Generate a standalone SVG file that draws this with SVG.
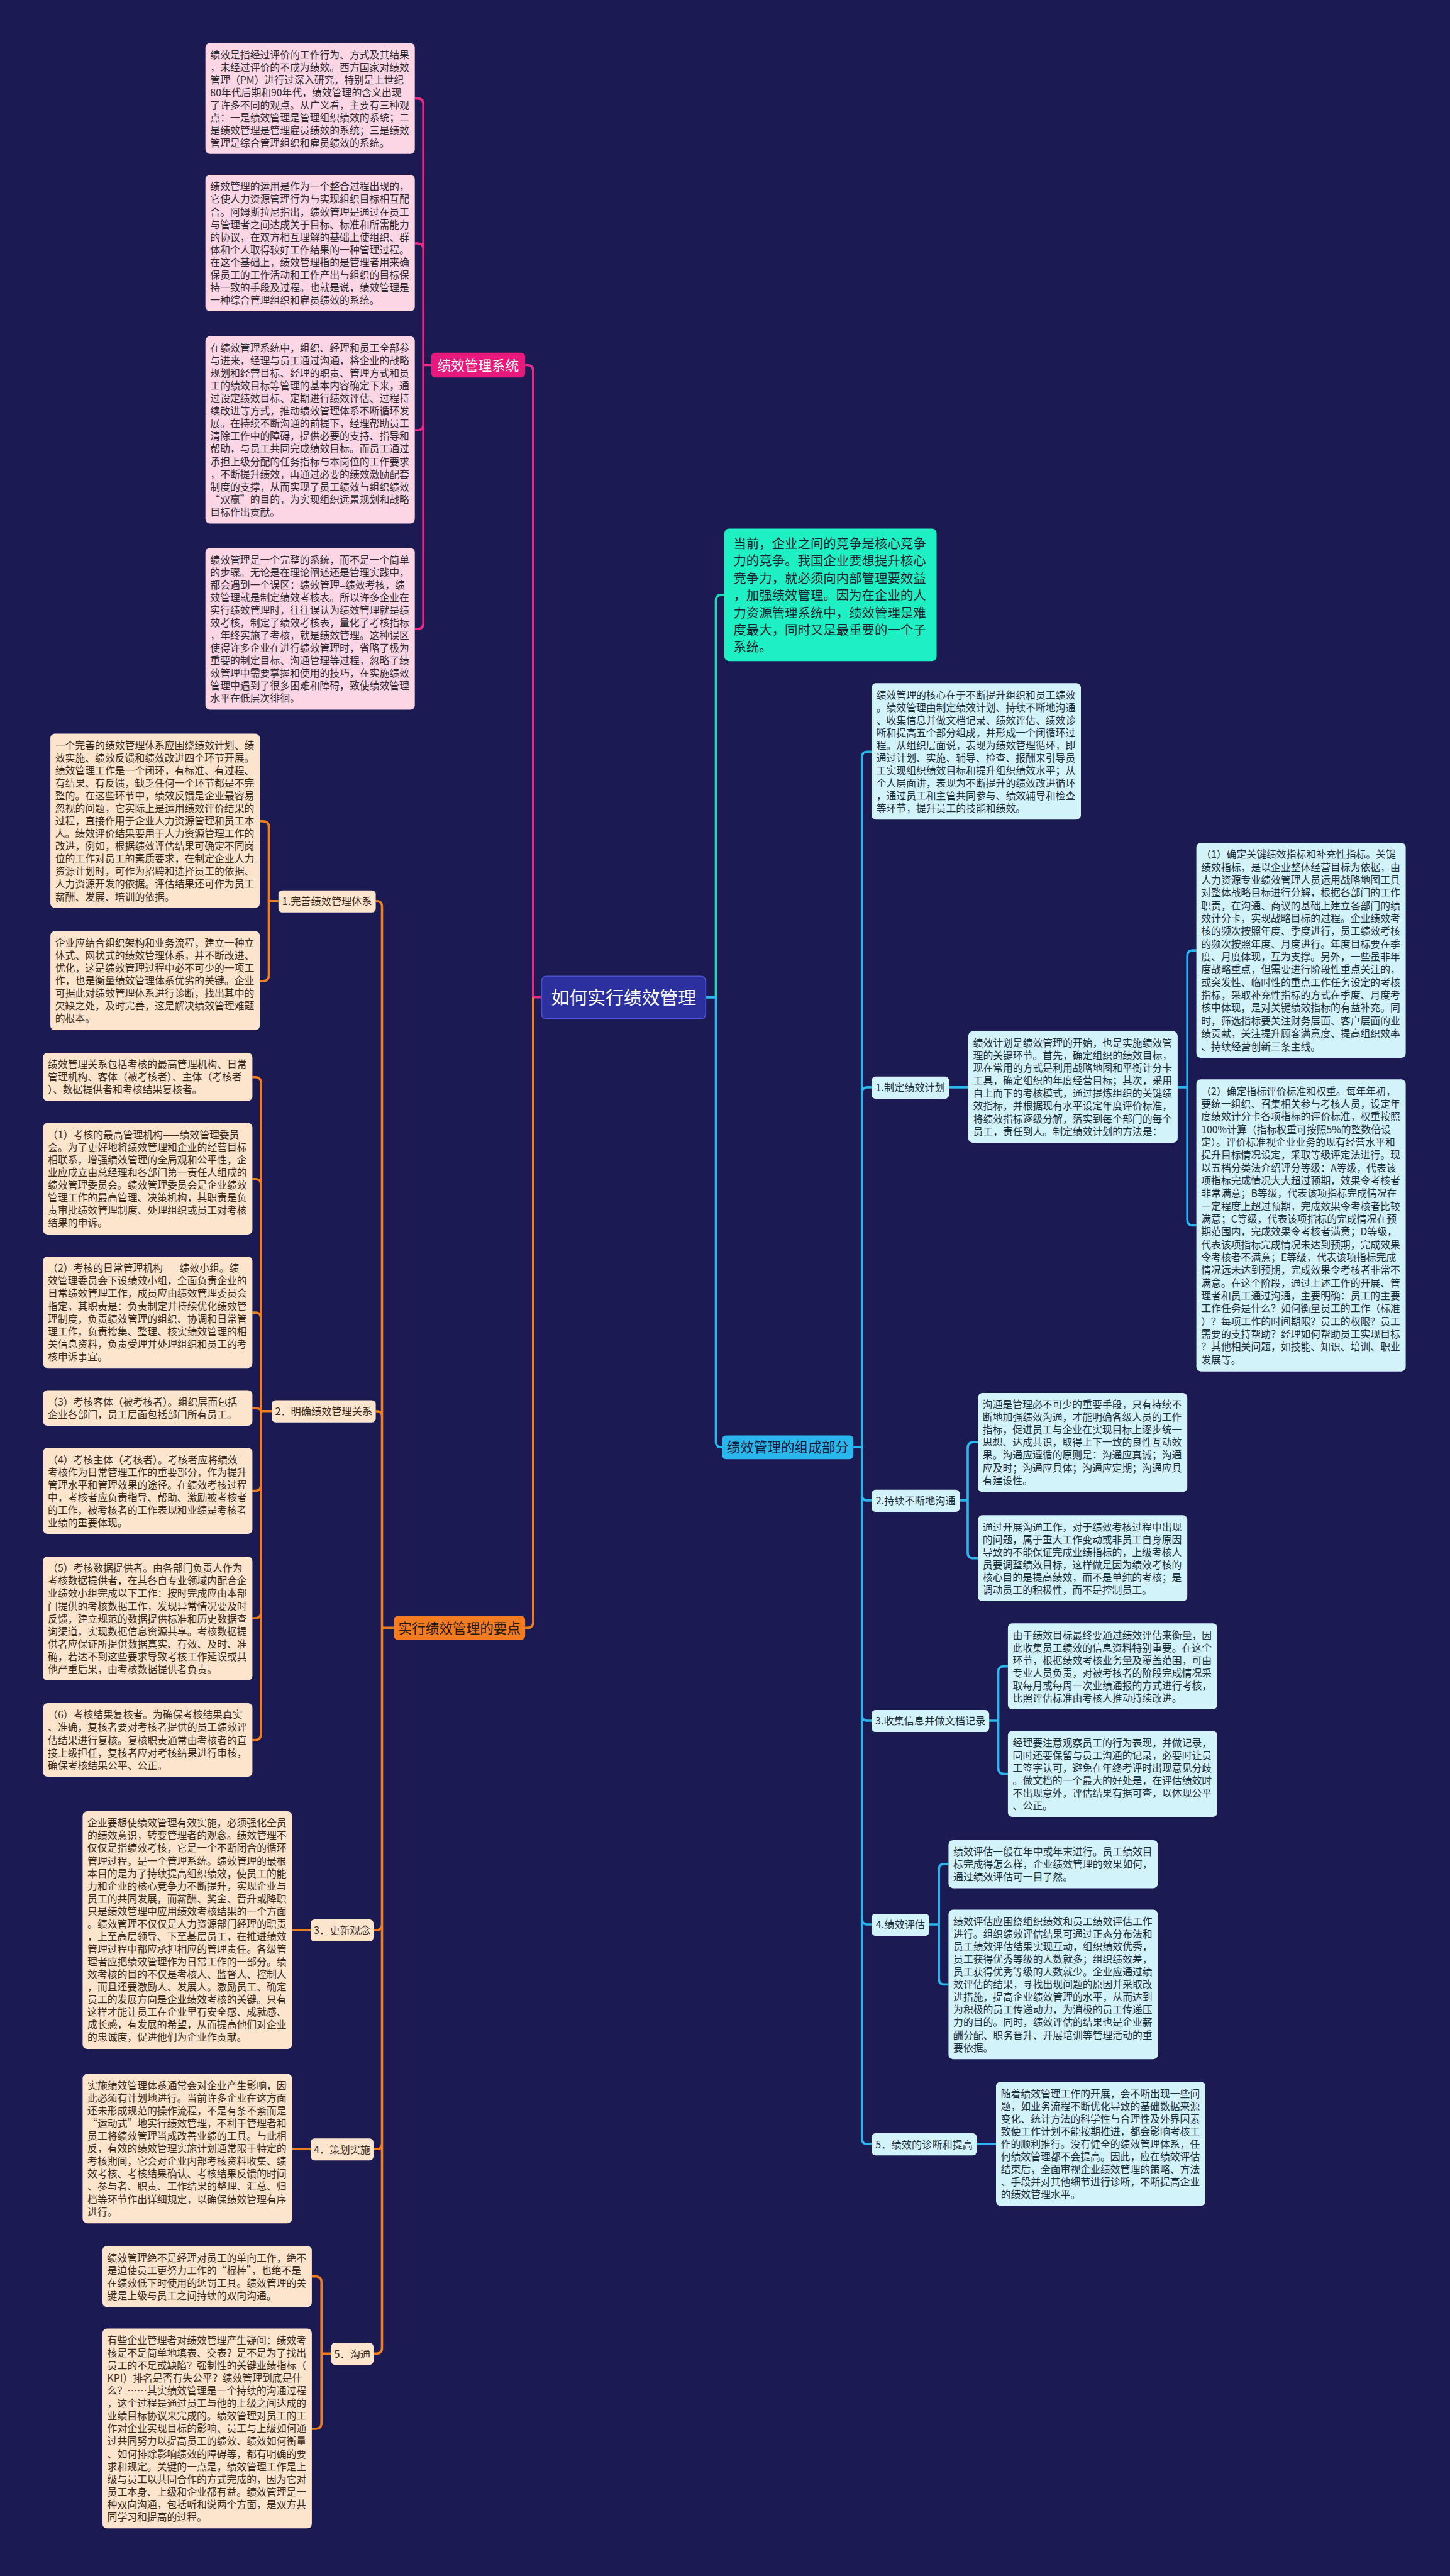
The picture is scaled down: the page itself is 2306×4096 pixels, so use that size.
<svg xmlns="http://www.w3.org/2000/svg" width="2306" height="4096" viewBox="0 0 2306 4096">
<style>
.t{font-family:"Noto Sans CJK SC","Liberation Sans",sans-serif;font-size:17.6px}
.gt{font-family:"Noto Sans CJK SC","Liberation Sans",sans-serif;font-size:22.7px;fill:#10242e}
.pt{fill:#2e2a30}.ot{fill:#3b2a1c}.bt{fill:#1d2e3c}
.pb{fill:#fdd6e6}.obx{fill:#fde5cd}.bb{fill:#d3f3fb}
.nl{font-family:"Noto Sans CJK SC","Liberation Sans",sans-serif;text-anchor:middle}
.cp{fill:none;stroke:#ee2a86;stroke-width:4}
.co{fill:none;stroke:#f07d1e;stroke-width:4}
.cb{fill:none;stroke:#2ab7ee;stroke-width:4}
.cg{fill:none;stroke:#1fdcb8;stroke-width:4}
</style>
<rect width="2306" height="4096" fill="#1b1a52"/>
<g transform="scale(0.9)">
<g id="connectors">
<path class="cp" d="M957,1762 H942 M942,1762 V655 Q942,645 932,645 H928"/>
<path class="co" d="M942,1762 V2866 Q942,2876 932,2876 H928"/>
<path class="cp" d="M762,645 H748 M748,645 V184 Q748,174 738,174 H733 M748,645 V440 Q748,430 738,430 H733 M748,645 V750 Q748,760 738,760 H733 M748,645 V1101 Q748,1111 738,1111 H733"/>
<path class="co" d="M696,2876 H675 M675,2876 V1602 Q675,1592 665,1592 H664 M675,2876 V2503 Q675,2493 665,2493 H664 M675,2876 V3400 Q675,3410 665,3410 H660 M675,2876 V3787 Q675,3797 665,3797 H660 M675,2876 V4148 Q675,4158 665,4158 H660"/>
<path class="co" d="M492,1592 H475 M475,1592 V1461 Q475,1451 465,1451 H459 M475,1592 V1723 Q475,1733 465,1733 H459"/>
<path class="co" d="M480,2493 H461 M461,2493 V1913 Q461,1903 451,1903 H446 M461,2493 V2093 Q461,2083 451,2083 H446 M461,2493 V2329 Q461,2319 451,2319 H446 M461,2493 Q461,2488 451,2488 H446 M461,2493 V2624 Q461,2634 451,2634 H446 M461,2493 V2849 Q461,2859 451,2859 H446 M461,2493 V3064 Q461,3074 451,3074 H446"/>
<path class="co" d="M549,3410 H516 M549,3797 H516"/>
<path class="co" d="M585,4158 H568 M568,4158 V4032 Q568,4022 558,4022 H551 M568,4158 V4281 Q568,4291 558,4291 H551"/>
<path class="cg" d="M1247,1762 H1265 M1265,1762 V1061 Q1265,1051 1275,1051 H1280"/>
<path class="cb" d="M1247,1762 H1265 M1265,1762 V2547 Q1265,2557 1275,2557 H1276"/>
<path class="cb" d="M1508,2557 H1523 M1523,2557 V1338 Q1523,1328 1533,1328 H1540 M1523,2557 V1931 Q1523,1921 1533,1921 H1540 M1523,2557 V2641 Q1523,2651 1533,2651 H1540 M1523,2557 V3030 Q1523,3040 1533,3040 H1540 M1523,2557 V3390 Q1523,3400 1533,3400 H1540 M1523,2557 V3778 Q1523,3788 1533,3788 H1540"/>
<path class="cb" d="M1677,1921 H1711 M2081,1921 H2098 M2098,1921 V1689 Q2098,1679 2108,1679 H2114 M2098,1921 V2155 Q2098,2165 2108,2165 H2114"/>
<path class="cb" d="M1696,2651 H1710 M1710,2651 V2558 Q1710,2548 1720,2548 H1728 M1710,2651 V2743 Q1710,2753 1720,2753 H1728"/>
<path class="cb" d="M1748,3040 H1764 M1764,3040 V2954 Q1764,2944 1774,2944 H1781 M1764,3040 V3124 Q1764,3134 1774,3134 H1781"/>
<path class="cb" d="M1642,3400 H1659 M1659,3400 V3303 Q1659,3293 1669,3293 H1676 M1659,3400 V3496 Q1659,3506 1669,3506 H1676"/>
<path class="cb" d="M1726,3788 H1760"/>
</g>

<g id="center">
<rect x="957" y="1725" width="290" height="75" rx="8" fill="#2c2f9e" stroke="#4a50d0" stroke-width="2"/>
<text class="nl" x="1102" y="1774" font-size="32" fill="#ffffff">如何实行绩效管理</text>
</g>

<g id="n-system">
<rect x="762" y="623" width="166" height="44" rx="7" fill="#e8197d"/>
<text class="nl" x="845" y="654" font-size="24" fill="#ffffff">绩效管理系统</text>
</g>
<g id="p1"><rect class="pb" x="363" y="76" width="370" height="196" rx="8"/>
<text class="t pt" x="371.5" y="103"><tspan x="371.5">绩效是指经过评价的工作行为、方式及其结果</tspan><tspan x="371.5" dy="22.3">，未经过评价的不成为绩效。西方国家对绩效</tspan><tspan x="371.5" dy="22.3">管理（PM）进行过深入研究，特别是上世纪</tspan><tspan x="371.5" dy="22.3">80年代后期和90年代，绩效管理的含义出现</tspan><tspan x="371.5" dy="22.3">了许多不同的观点。从广义看，主要有三种观</tspan><tspan x="371.5" dy="22.3">点：一是绩效管理是管理组织绩效的系统；二</tspan><tspan x="371.5" dy="22.3">是绩效管理是管理雇员绩效的系统；三是绩效</tspan><tspan x="371.5" dy="22.3">管理是综合管理组织和雇员绩效的系统。</tspan></text></g>
<g id="p2"><rect class="pb" x="363" y="309" width="370" height="241" rx="8"/>
<text class="t pt" x="371.5" y="336"><tspan x="371.5">绩效管理的运用是作为一个整合过程出现的，</tspan><tspan x="371.5" dy="22.3">它使人力资源管理行为与实现组织目标相互配</tspan><tspan x="371.5" dy="22.3">合。阿姆斯拉尼指出，绩效管理是通过在员工</tspan><tspan x="371.5" dy="22.3">与管理者之间达成关于目标、标准和所需能力</tspan><tspan x="371.5" dy="22.3">的协议，在双方相互理解的基础上使组织、群</tspan><tspan x="371.5" dy="22.3">体和个人取得较好工作结果的一种管理过程。</tspan><tspan x="371.5" dy="22.3">在这个基础上，绩效管理指的是管理者用来确</tspan><tspan x="371.5" dy="22.3">保员工的工作活动和工作产出与组织的目标保</tspan><tspan x="371.5" dy="22.3">持一致的手段及过程。也就是说，绩效管理是</tspan><tspan x="371.5" dy="22.3">一种综合管理组织和雇员绩效的系统。</tspan></text></g>
<g id="p3"><rect class="pb" x="363" y="594" width="370" height="331" rx="8"/>
<text class="t pt" x="371.5" y="621"><tspan x="371.5">在绩效管理系统中，组织、经理和员工全部参</tspan><tspan x="371.5" dy="22.3">与进来，经理与员工通过沟通，将企业的战略</tspan><tspan x="371.5" dy="22.3">规划和经营目标、经理的职责、管理方式和员</tspan><tspan x="371.5" dy="22.3">工的绩效目标等管理的基本内容确定下来，通</tspan><tspan x="371.5" dy="22.3">过设定绩效目标、定期进行绩效评估、过程持</tspan><tspan x="371.5" dy="22.3">续改进等方式，推动绩效管理体系不断循环发</tspan><tspan x="371.5" dy="22.3">展。在持续不断沟通的前提下，经理帮助员工</tspan><tspan x="371.5" dy="22.3">清除工作中的障碍，提供必要的支持、指导和</tspan><tspan x="371.5" dy="22.3">帮助，与员工共同完成绩效目标。而员工通过</tspan><tspan x="371.5" dy="22.3">承担上级分配的任务指标与本岗位的工作要求</tspan><tspan x="371.5" dy="22.3">，不断提升绩效，再通过必要的绩效激励配套</tspan><tspan x="371.5" dy="22.3">制度的支撑，从而实现了员工绩效与组织绩效</tspan><tspan x="371.5" dy="22.3">“双赢”的目的，为实现组织远景规划和战略</tspan><tspan x="371.5" dy="22.3">目标作出贡献。</tspan></text></g>
<g id="p4"><rect class="pb" x="363" y="968" width="370" height="286" rx="8"/>
<text class="t pt" x="371.5" y="995"><tspan x="371.5">绩效管理是一个完整的系统，而不是一个简单</tspan><tspan x="371.5" dy="22.3">的步骤。无论是在理论阐述还是管理实践中，</tspan><tspan x="371.5" dy="22.3">都会遇到一个误区：绩效管理=绩效考核，绩</tspan><tspan x="371.5" dy="22.3">效管理就是制定绩效考核表。所以许多企业在</tspan><tspan x="371.5" dy="22.3">实行绩效管理时，往往误认为绩效管理就是绩</tspan><tspan x="371.5" dy="22.3">效考核，制定了绩效考核表，量化了考核指标</tspan><tspan x="371.5" dy="22.3">，年终实施了考核，就是绩效管理。这种误区</tspan><tspan x="371.5" dy="22.3">使得许多企业在进行绩效管理时，省略了极为</tspan><tspan x="371.5" dy="22.3">重要的制定目标、沟通管理等过程，忽略了绩</tspan><tspan x="371.5" dy="22.3">效管理中需要掌握和使用的技巧，在实施绩效</tspan><tspan x="371.5" dy="22.3">管理中遇到了很多困难和障碍，致使绩效管理</tspan><tspan x="371.5" dy="22.3">水平在低层次徘徊。</tspan></text></g>

<g id="n-keypoints">
<rect x="696" y="2855" width="232" height="42" rx="7" fill="#f47c20"/>
<text class="nl" x="812" y="2885" font-size="24" fill="#2a1a0c">实行绩效管理的要点</text>
</g>
<g id="n-o1"><rect class="obx" x="492" y="1573" width="172" height="39" rx="7"/><text class="nl ot" x="578" y="1599" font-size="18">1.完善绩效管理体系</text></g>
<g id="n-o2"><rect class="obx" x="480" y="2474" width="184" height="39" rx="7"/><text class="nl ot" x="572" y="2500" font-size="18">2．明确绩效管理关系</text></g>
<g id="n-o3"><rect class="obx" x="549" y="3391" width="111" height="39" rx="7"/><text class="nl ot" x="604.5" y="3417" font-size="18">3．更新观念</text></g>
<g id="n-o4"><rect class="obx" x="549" y="3778" width="111" height="39" rx="7"/><text class="nl ot" x="604.5" y="3804" font-size="18">4．策划实施</text></g>
<g id="n-o5"><rect class="obx" x="585" y="4139" width="75" height="39" rx="7"/><text class="nl ot" x="622.5" y="4165" font-size="18">5．沟通</text></g>

<g id="oa"><rect class="obx" x="89" y="1296" width="370" height="308" rx="8"/>
<text class="t ot" x="97.5" y="1323"><tspan x="97.5">一个完善的绩效管理体系应围绕绩效计划、绩</tspan><tspan x="97.5" dy="22.3">效实施、绩效反馈和绩效改进四个环节开展。</tspan><tspan x="97.5" dy="22.3">绩效管理工作是一个闭环，有标准、有过程、</tspan><tspan x="97.5" dy="22.3">有结果、有反馈，缺乏任何一个环节都是不完</tspan><tspan x="97.5" dy="22.3">整的。在这些环节中，绩效反馈是企业最容易</tspan><tspan x="97.5" dy="22.3">忽视的问题，它实际上是运用绩效评价结果的</tspan><tspan x="97.5" dy="22.3">过程，直接作用于企业人力资源管理和员工本</tspan><tspan x="97.5" dy="22.3">人。绩效评价结果要用于人力资源管理工作的</tspan><tspan x="97.5" dy="22.3">改进，例如，根据绩效评估结果可确定不同岗</tspan><tspan x="97.5" dy="22.3">位的工作对员工的素质要求，在制定企业人力</tspan><tspan x="97.5" dy="22.3">资源计划时，可作为招聘和选择员工的依据、</tspan><tspan x="97.5" dy="22.3">人力资源开发的依据。评估结果还可作为员工</tspan><tspan x="97.5" dy="22.3">薪酬、发展、培训的依据。</tspan></text></g>
<g id="ob"><rect class="obx" x="89" y="1645" width="370" height="175" rx="8"/>
<text class="t ot" x="97.5" y="1672"><tspan x="97.5">企业应结合组织架构和业务流程，建立一种立</tspan><tspan x="97.5" dy="22.3">体式、网状式的绩效管理体系，并不断改进、</tspan><tspan x="97.5" dy="22.3">优化，这是绩效管理过程中必不可少的一项工</tspan><tspan x="97.5" dy="22.3">作，也是衡量绩效管理体系优劣的关键。企业</tspan><tspan x="97.5" dy="22.3">可据此对绩效管理体系进行诊断，找出其中的</tspan><tspan x="97.5" dy="22.3">欠缺之处，及时完善，这是解决绩效管理难题</tspan><tspan x="97.5" dy="22.3">的根本。</tspan></text></g>
<g id="oc"><rect class="obx" x="76" y="1860" width="370" height="85" rx="8"/>
<text class="t ot" x="84.5" y="1887"><tspan x="84.5">绩效管理关系包括考核的最高管理机构、日常</tspan><tspan x="84.5" dy="22.3">管理机构、客体（被考核者）、主体（考核者</tspan><tspan x="84.5" dy="22.3">）、数据提供者和考核结果复核者。</tspan></text></g>
<g id="od"><rect class="obx" x="76" y="1984" width="370" height="197" rx="8"/>
<text class="t ot" x="84.5" y="2011"><tspan x="84.5">（1）考核的最高管理机构——绩效管理委员</tspan><tspan x="84.5" dy="22.3">会。为了更好地将绩效管理和企业的经营目标</tspan><tspan x="84.5" dy="22.3">相联系，增强绩效管理的全局观和公平性，企</tspan><tspan x="84.5" dy="22.3">业应成立由总经理和各部门第一责任人组成的</tspan><tspan x="84.5" dy="22.3">绩效管理委员会。绩效管理委员会是企业绩效</tspan><tspan x="84.5" dy="22.3">管理工作的最高管理、决策机构，其职责是负</tspan><tspan x="84.5" dy="22.3">责审批绩效管理制度、处理组织或员工对考核</tspan><tspan x="84.5" dy="22.3">结果的申诉。</tspan></text></g>
<g id="oe"><rect class="obx" x="76" y="2220" width="370" height="197" rx="8"/>
<text class="t ot" x="84.5" y="2247"><tspan x="84.5">（2）考核的日常管理机构——绩效小组。绩</tspan><tspan x="84.5" dy="22.3">效管理委员会下设绩效小组，全面负责企业的</tspan><tspan x="84.5" dy="22.3">日常绩效管理工作，成员应由绩效管理委员会</tspan><tspan x="84.5" dy="22.3">指定，其职责是：负责制定并持续优化绩效管</tspan><tspan x="84.5" dy="22.3">理制度，负责绩效管理的组织、协调和日常管</tspan><tspan x="84.5" dy="22.3">理工作，负责搜集、整理、核实绩效管理的相</tspan><tspan x="84.5" dy="22.3">关信息资料，负责受理并处理组织和员工的考</tspan><tspan x="84.5" dy="22.3">核申诉事宜。</tspan></text></g>
<g id="of"><rect class="obx" x="76" y="2456" width="370" height="63" rx="8"/>
<text class="t ot" x="84.5" y="2483"><tspan x="84.5">（3）考核客体（被考核者）。组织层面包括</tspan><tspan x="84.5" dy="22.3">企业各部门，员工层面包括部门所有员工。</tspan></text></g>
<g id="og"><rect class="obx" x="76" y="2558" width="370" height="152" rx="8"/>
<text class="t ot" x="84.5" y="2585"><tspan x="84.5">（4）考核主体（考核者）。考核者应将绩效</tspan><tspan x="84.5" dy="22.3">考核作为日常管理工作的重要部分，作为提升</tspan><tspan x="84.5" dy="22.3">管理水平和管理效果的途径。在绩效考核过程</tspan><tspan x="84.5" dy="22.3">中，考核者应负责指导、帮助、激励被考核者</tspan><tspan x="84.5" dy="22.3">的工作，被考核者的工作表现和业绩是考核者</tspan><tspan x="84.5" dy="22.3">业绩的重要体现。</tspan></text></g>
<g id="oh"><rect class="obx" x="76" y="2750" width="370" height="219" rx="8"/>
<text class="t ot" x="84.5" y="2777"><tspan x="84.5">（5）考核数据提供者。由各部门负责人作为</tspan><tspan x="84.5" dy="22.3">考核数据提供者，在其各自专业领域内配合企</tspan><tspan x="84.5" dy="22.3">业绩效小组完成以下工作：按时完成应由本部</tspan><tspan x="84.5" dy="22.3">门提供的考核数据工作，发现异常情况要及时</tspan><tspan x="84.5" dy="22.3">反馈，建立规范的数据提供标准和历史数据查</tspan><tspan x="84.5" dy="22.3">询渠道，实现数据信息资源共享。考核数据提</tspan><tspan x="84.5" dy="22.3">供者应保证所提供数据真实、有效、及时、准</tspan><tspan x="84.5" dy="22.3">确，若达不到这些要求导致考核工作延误或其</tspan><tspan x="84.5" dy="22.3">他严重后果，由考核数据提供者负责。</tspan></text></g>
<g id="oi"><rect class="obx" x="76" y="3009" width="370" height="130" rx="8"/>
<text class="t ot" x="84.5" y="3036"><tspan x="84.5">（6）考核结果复核者。为确保考核结果真实</tspan><tspan x="84.5" dy="22.3">、准确，复核者要对考核者提供的员工绩效评</tspan><tspan x="84.5" dy="22.3">估结果进行复核。复核职责通常由考核者的直</tspan><tspan x="84.5" dy="22.3">接上级担任，复核者应对考核结果进行审核，</tspan><tspan x="84.5" dy="22.3">确保考核结果公平、公正。</tspan></text></g>
<g id="oj"><rect class="obx" x="146" y="3200" width="370" height="420" rx="8"/>
<text class="t ot" x="154.5" y="3227"><tspan x="154.5">企业要想使绩效管理有效实施，必须强化全员</tspan><tspan x="154.5" dy="22.3">的绩效意识，转变管理者的观念。绩效管理不</tspan><tspan x="154.5" dy="22.3">仅仅是指绩效考核，它是一个不断闭合的循环</tspan><tspan x="154.5" dy="22.3">管理过程，是一个管理系统。绩效管理的最根</tspan><tspan x="154.5" dy="22.3">本目的是为了持续提高组织绩效，使员工的能</tspan><tspan x="154.5" dy="22.3">力和企业的核心竞争力不断提升，实现企业与</tspan><tspan x="154.5" dy="22.3">员工的共同发展，而薪酬、奖金、晋升或降职</tspan><tspan x="154.5" dy="22.3">只是绩效管理中应用绩效考核结果的一个方面</tspan><tspan x="154.5" dy="22.3">。绩效管理不仅仅是人力资源部门经理的职责</tspan><tspan x="154.5" dy="22.3">，上至高层领导、下至基层员工，在推进绩效</tspan><tspan x="154.5" dy="22.3">管理过程中都应承担相应的管理责任。各级管</tspan><tspan x="154.5" dy="22.3">理者应把绩效管理作为日常工作的一部分。绩</tspan><tspan x="154.5" dy="22.3">效考核的目的不仅是考核人、监督人、控制人</tspan><tspan x="154.5" dy="22.3">，而且还要激励人、发展人。激励员工、确定</tspan><tspan x="154.5" dy="22.3">员工的发展方向是企业绩效考核的关键。只有</tspan><tspan x="154.5" dy="22.3">这样才能让员工在企业里有安全感、成就感、</tspan><tspan x="154.5" dy="22.3">成长感，有发展的希望，从而提高他们对企业</tspan><tspan x="154.5" dy="22.3">的忠诚度，促进他们为企业作贡献。</tspan></text></g>
<g id="ok"><rect class="obx" x="146" y="3664" width="370" height="264" rx="8"/>
<text class="t ot" x="154.5" y="3691"><tspan x="154.5">实施绩效管理体系通常会对企业产生影响，因</tspan><tspan x="154.5" dy="22.3">此必须有计划地进行。当前许多企业在这方面</tspan><tspan x="154.5" dy="22.3">还未形成规范的操作流程，不是有条不紊而是</tspan><tspan x="154.5" dy="22.3">“运动式”地实行绩效管理，不利于管理者和</tspan><tspan x="154.5" dy="22.3">员工将绩效管理当成改善业绩的工具。与此相</tspan><tspan x="154.5" dy="22.3">反，有效的绩效管理实施计划通常限于特定的</tspan><tspan x="154.5" dy="22.3">考核期间，它会对企业内部考核资料收集、绩</tspan><tspan x="154.5" dy="22.3">效考核、考核结果确认、考核结果反馈的时间</tspan><tspan x="154.5" dy="22.3">、参与者、职责、工作结果的整理、汇总、归</tspan><tspan x="154.5" dy="22.3">档等环节作出详细规定，以确保绩效管理有序</tspan><tspan x="154.5" dy="22.3">进行。</tspan></text></g>
<g id="ol"><rect class="obx" x="181" y="3968" width="370" height="108" rx="8"/>
<text class="t ot" x="189.5" y="3995"><tspan x="189.5">绩效管理绝不是经理对员工的单向工作，绝不</tspan><tspan x="189.5" dy="22.3">是迫使员工更努力工作的“棍棒”，也绝不是</tspan><tspan x="189.5" dy="22.3">在绩效低下时使用的惩罚工具。绩效管理的关</tspan><tspan x="189.5" dy="22.3">键是上级与员工之间持续的双向沟通。</tspan></text></g>
<g id="om"><rect class="obx" x="181" y="4114" width="370" height="353" rx="8"/>
<text class="t ot" x="189.5" y="4141"><tspan x="189.5">有些企业管理者对绩效管理产生疑问：绩效考</tspan><tspan x="189.5" dy="22.3">核是不是简单地填表、交表？是不是为了找出</tspan><tspan x="189.5" dy="22.3">员工的不足或缺陷？强制性的关键业绩指标（</tspan><tspan x="189.5" dy="22.3">KPI）排名是否有失公平？绩效管理到底是什</tspan><tspan x="189.5" dy="22.3">么？……其实绩效管理是一个持续的沟通过程</tspan><tspan x="189.5" dy="22.3">，这个过程是通过员工与他的上级之间达成的</tspan><tspan x="189.5" dy="22.3">业绩目标协议来完成的。绩效管理对员工的工</tspan><tspan x="189.5" dy="22.3">作对企业实现目标的影响、员工与上级如何通</tspan><tspan x="189.5" dy="22.3">过共同努力以提高员工的绩效、绩效如何衡量</tspan><tspan x="189.5" dy="22.3">、如何排除影响绩效的障碍等，都有明确的要</tspan><tspan x="189.5" dy="22.3">求和规定。关键的一点是，绩效管理工作是上</tspan><tspan x="189.5" dy="22.3">级与员工以共同合作的方式完成的，因为它对</tspan><tspan x="189.5" dy="22.3">员工本身、上级和企业都有益。绩效管理是一</tspan><tspan x="189.5" dy="22.3">种双向沟通，包括听和说两个方面，是双方共</tspan><tspan x="189.5" dy="22.3">同学习和提高的过程。</tspan></text></g>

<g id="n-green">
<rect x="1280" y="934" width="375" height="234" rx="8" fill="#1ef0c3"/>
<text class="gt" x="1296" y="969"><tspan x="1296">当前，企业之间的竞争是核心竞争</tspan><tspan x="1296" dy="30.4">力的竞争。我国企业要想提升核心</tspan><tspan x="1296" dy="30.4">竞争力，就必须向内部管理要效益</tspan><tspan x="1296" dy="30.4">，加强绩效管理。因为在企业的人</tspan><tspan x="1296" dy="30.4">力资源管理系统中，绩效管理是难</tspan><tspan x="1296" dy="30.4">度最大，同时又是最重要的一个子</tspan><tspan x="1296" dy="30.4">系统。</tspan></text>
</g>

<g id="n-parts">
<rect x="1276" y="2536" width="232" height="42" rx="7" fill="#2ab7ee"/>
<text class="nl" x="1392" y="2566" font-size="24" fill="#0e1d3a">绩效管理的组成部分</text>
</g>
<g id="n-b1"><rect class="bb" x="1540" y="1902" width="137" height="39" rx="7"/><text class="nl bt" x="1608.5" y="1928" font-size="18">1.制定绩效计划</text></g>
<g id="n-b2"><rect class="bb" x="1540" y="2632" width="156" height="39" rx="7"/><text class="nl bt" x="1618" y="2658" font-size="18">2.持续不断地沟通</text></g>
<g id="n-b3"><rect class="bb" x="1540" y="3021" width="208" height="39" rx="7"/><text class="nl bt" x="1644" y="3047" font-size="18">3.收集信息并做文档记录</text></g>
<g id="n-b4"><rect class="bb" x="1540" y="3381" width="102" height="39" rx="7"/><text class="nl bt" x="1591" y="3407" font-size="18">4.绩效评估</text></g>
<g id="n-b5"><rect class="bb" x="1540" y="3769" width="186" height="39" rx="7"/><text class="nl bt" x="1633" y="3795" font-size="18">5．绩效的诊断和提高</text></g>

<g id="bt"><rect class="bb" x="1540" y="1207" width="370" height="241" rx="8"/>
<text class="t bt" x="1548.5" y="1234"><tspan x="1548.5">绩效管理的核心在于不断提升组织和员工绩效</tspan><tspan x="1548.5" dy="22.3">。绩效管理由制定绩效计划、持续不断地沟通</tspan><tspan x="1548.5" dy="22.3">、收集信息并做文档记录、绩效评估、绩效诊</tspan><tspan x="1548.5" dy="22.3">断和提高五个部分组成，并形成一个闭循环过</tspan><tspan x="1548.5" dy="22.3">程。从组织层面说，表现为绩效管理循环，即</tspan><tspan x="1548.5" dy="22.3">通过计划、实施、辅导、检查、报酬来引导员</tspan><tspan x="1548.5" dy="22.3">工实现组织绩效目标和提升组织绩效水平；从</tspan><tspan x="1548.5" dy="22.3">个人层面讲，表现为不断提升的绩效改进循环</tspan><tspan x="1548.5" dy="22.3">，通过员工和主管共同参与、绩效辅导和检查</tspan><tspan x="1548.5" dy="22.3">等环节，提升员工的技能和绩效。</tspan></text></g>
<g id="bplan"><rect class="bb" x="1711" y="1822" width="370" height="197" rx="8"/>
<text class="t bt" x="1719.5" y="1849"><tspan x="1719.5">绩效计划是绩效管理的开始，也是实施绩效管</tspan><tspan x="1719.5" dy="22.3">理的关键环节。首先，确定组织的绩效目标，</tspan><tspan x="1719.5" dy="22.3">现在常用的方式是利用战略地图和平衡计分卡</tspan><tspan x="1719.5" dy="22.3">工具，确定组织的年度经营目标；其次，采用</tspan><tspan x="1719.5" dy="22.3">自上而下的考核模式，通过提炼组织的关键绩</tspan><tspan x="1719.5" dy="22.3">效指标，并根据现有水平设定年度评价标准，</tspan><tspan x="1719.5" dy="22.3">将绩效指标逐级分解，落实到每个部门的每个</tspan><tspan x="1719.5" dy="22.3">员工，责任到人。制定绩效计划的方法是：</tspan></text></g>
<g id="bk1"><rect class="bb" x="2114" y="1489" width="370" height="380" rx="8"/>
<text class="t bt" x="2122.5" y="1516"><tspan x="2122.5">（1）确定关键绩效指标和补充性指标。关键</tspan><tspan x="2122.5" dy="22.6">绩效指标，是以企业整体经营目标为依据，由</tspan><tspan x="2122.5" dy="22.6">人力资源专业绩效管理人员运用战略地图工具</tspan><tspan x="2122.5" dy="22.6">对整体战略目标进行分解，根据各部门的工作</tspan><tspan x="2122.5" dy="22.6">职责，在沟通、商议的基础上建立各部门的绩</tspan><tspan x="2122.5" dy="22.6">效计分卡，实现战略目标的过程。企业绩效考</tspan><tspan x="2122.5" dy="22.6">核的频次按照年度、季度进行，员工绩效考核</tspan><tspan x="2122.5" dy="22.6">的频次按照年度、月度进行。年度目标要在季</tspan><tspan x="2122.5" dy="22.6">度、月度体现，互为支撑。另外，一些虽非年</tspan><tspan x="2122.5" dy="22.6">度战略重点，但需要进行阶段性重点关注的，</tspan><tspan x="2122.5" dy="22.6">或突发性、临时性的重点工作任务设定的考核</tspan><tspan x="2122.5" dy="22.6">指标，采取补充性指标的方式在季度、月度考</tspan><tspan x="2122.5" dy="22.6">核中体现，是对关键绩效指标的有益补充。同</tspan><tspan x="2122.5" dy="22.6">时，筛选指标要关注财务层面、客户层面的业</tspan><tspan x="2122.5" dy="22.6">绩贡献，关注提升顾客满意度、提高组织效率</tspan><tspan x="2122.5" dy="22.6">、持续经营创新三条主线。</tspan></text></g>
<g id="bk2"><rect class="bb" x="2114" y="1907" width="370" height="516" rx="8"/>
<text class="t bt" x="2122.5" y="1934"><tspan x="2122.5">（2）确定指标评价标准和权重。每年年初，</tspan><tspan x="2122.5" dy="22.6">要统一组织、召集相关参与考核人员，设定年</tspan><tspan x="2122.5" dy="22.6">度绩效计分卡各项指标的评价标准，权重按照</tspan><tspan x="2122.5" dy="22.6">100%计算（指标权重可按照5%的整数倍设</tspan><tspan x="2122.5" dy="22.6">定）。评价标准视企业业务的现有经营水平和</tspan><tspan x="2122.5" dy="22.6">提升目标情况设定，采取等级评定法进行。现</tspan><tspan x="2122.5" dy="22.6">以五档分类法介绍评分等级：A等级，代表该</tspan><tspan x="2122.5" dy="22.6">项指标完成情况大大超过预期，效果令考核者</tspan><tspan x="2122.5" dy="22.6">非常满意；B等级，代表该项指标完成情况在</tspan><tspan x="2122.5" dy="22.6">一定程度上超过预期，完成效果令考核者比较</tspan><tspan x="2122.5" dy="22.6">满意；C等级，代表该项指标的完成情况在预</tspan><tspan x="2122.5" dy="22.6">期范围内，完成效果令考核者满意；D等级，</tspan><tspan x="2122.5" dy="22.6">代表该项指标完成情况未达到预期，完成效果</tspan><tspan x="2122.5" dy="22.6">令考核者不满意；E等级，代表该项指标完成</tspan><tspan x="2122.5" dy="22.6">情况远未达到预期，完成效果令考核者非常不</tspan><tspan x="2122.5" dy="22.6">满意。在这个阶段，通过上述工作的开展、管</tspan><tspan x="2122.5" dy="22.6">理者和员工通过沟通，主要明确：员工的主要</tspan><tspan x="2122.5" dy="22.6">工作任务是什么？如何衡量员工的工作（标准</tspan><tspan x="2122.5" dy="22.6">）？每项工作的时间期限？员工的权限？员工</tspan><tspan x="2122.5" dy="22.6">需要的支持帮助？经理如何帮助员工实现目标</tspan><tspan x="2122.5" dy="22.6">？其他相关问题，如技能、知识、培训、职业</tspan><tspan x="2122.5" dy="22.6">发展等。</tspan></text></g>
<g id="bc1"><rect class="bb" x="1728" y="2461" width="370" height="175" rx="8"/>
<text class="t bt" x="1736.5" y="2488"><tspan x="1736.5">沟通是管理必不可少的重要手段，只有持续不</tspan><tspan x="1736.5" dy="22.3">断地加强绩效沟通，才能明确各级人员的工作</tspan><tspan x="1736.5" dy="22.3">指标，促进员工与企业在实现目标上逐步统一</tspan><tspan x="1736.5" dy="22.3">思想、达成共识，取得上下一致的良性互动效</tspan><tspan x="1736.5" dy="22.3">果。沟通应遵循的原则是：沟通应真诚；沟通</tspan><tspan x="1736.5" dy="22.3">应及时；沟通应具体；沟通应定期；沟通应具</tspan><tspan x="1736.5" dy="22.3">有建设性。</tspan></text></g>
<g id="bc2"><rect class="bb" x="1728" y="2677" width="370" height="152" rx="8"/>
<text class="t bt" x="1736.5" y="2704"><tspan x="1736.5">通过开展沟通工作，对于绩效考核过程中出现</tspan><tspan x="1736.5" dy="22.3">的问题，属于重大工作变动或非员工自身原因</tspan><tspan x="1736.5" dy="22.3">导致的不能保证完成业绩指标的，上级考核人</tspan><tspan x="1736.5" dy="22.3">员要调整绩效目标，这样做是因为绩效考核的</tspan><tspan x="1736.5" dy="22.3">核心目的是提高绩效，而不是单纯的考核；是</tspan><tspan x="1736.5" dy="22.3">调动员工的积极性，而不是控制员工。</tspan></text></g>
<g id="bi1"><rect class="bb" x="1781" y="2868" width="370" height="152" rx="8"/>
<text class="t bt" x="1789.5" y="2895"><tspan x="1789.5">由于绩效目标最终要通过绩效评估来衡量，因</tspan><tspan x="1789.5" dy="22.3">此收集员工绩效的信息资料特别重要。在这个</tspan><tspan x="1789.5" dy="22.3">环节，根据绩效考核业务量及覆盖范围，可由</tspan><tspan x="1789.5" dy="22.3">专业人员负责，对被考核者的阶段完成情况采</tspan><tspan x="1789.5" dy="22.3">取每月或每周一次业绩通报的方式进行考核，</tspan><tspan x="1789.5" dy="22.3">比照评估标准由考核人推动持续改进。</tspan></text></g>
<g id="bi2"><rect class="bb" x="1781" y="3058" width="370" height="152" rx="8"/>
<text class="t bt" x="1789.5" y="3085"><tspan x="1789.5">经理要注意观察员工的行为表现，并做记录，</tspan><tspan x="1789.5" dy="22.3">同时还要保留与员工沟通的记录，必要时让员</tspan><tspan x="1789.5" dy="22.3">工签字认可，避免在年终考评时出现意见分歧</tspan><tspan x="1789.5" dy="22.3">。做文档的一个最大的好处是，在评估绩效时</tspan><tspan x="1789.5" dy="22.3">不出现意外，评估结果有据可查，以体现公平</tspan><tspan x="1789.5" dy="22.3">、公正。</tspan></text></g>
<g id="be1"><rect class="bb" x="1676" y="3251" width="370" height="85" rx="8"/>
<text class="t bt" x="1684.5" y="3278"><tspan x="1684.5">绩效评估一般在年中或年末进行。员工绩效目</tspan><tspan x="1684.5" dy="22.3">标完成得怎么样，企业绩效管理的效果如何，</tspan><tspan x="1684.5" dy="22.3">通过绩效评估可一目了然。</tspan></text></g>
<g id="be2"><rect class="bb" x="1676" y="3374" width="370" height="264" rx="8"/>
<text class="t bt" x="1684.5" y="3401"><tspan x="1684.5">绩效评估应围绕组织绩效和员工绩效评估工作</tspan><tspan x="1684.5" dy="22.3">进行。组织绩效评估结果可通过正态分布法和</tspan><tspan x="1684.5" dy="22.3">员工绩效评估结果实现互动，组织绩效优秀，</tspan><tspan x="1684.5" dy="22.3">员工获得优秀等级的人数就多；组织绩效差，</tspan><tspan x="1684.5" dy="22.3">员工获得优秀等级的人数就少。企业应通过绩</tspan><tspan x="1684.5" dy="22.3">效评估的结果，寻找出现问题的原因并采取改</tspan><tspan x="1684.5" dy="22.3">进措施，提高企业绩效管理的水平，从而达到</tspan><tspan x="1684.5" dy="22.3">为积极的员工传递动力，为消极的员工传递压</tspan><tspan x="1684.5" dy="22.3">力的目的。同时，绩效评估的结果也是企业薪</tspan><tspan x="1684.5" dy="22.3">酬分配、职务晋升、开展培训等管理活动的重</tspan><tspan x="1684.5" dy="22.3">要依据。</tspan></text></g>
<g id="bd"><rect class="bb" x="1760" y="3678" width="370" height="219" rx="8"/>
<text class="t bt" x="1768.5" y="3705"><tspan x="1768.5">随着绩效管理工作的开展，会不断出现一些问</tspan><tspan x="1768.5" dy="22.3">题，如业务流程不断优化导致的基础数据来源</tspan><tspan x="1768.5" dy="22.3">变化、统计方法的科学性与合理性及外界因素</tspan><tspan x="1768.5" dy="22.3">致使工作计划不能按期推进，都会影响考核工</tspan><tspan x="1768.5" dy="22.3">作的顺利推行。没有健全的绩效管理体系，任</tspan><tspan x="1768.5" dy="22.3">何绩效管理都不会提高。因此，应在绩效评估</tspan><tspan x="1768.5" dy="22.3">结束后，全面审视企业绩效管理的策略、方法</tspan><tspan x="1768.5" dy="22.3">、手段并对其他细节进行诊断，不断提高企业</tspan><tspan x="1768.5" dy="22.3">的绩效管理水平。</tspan></text></g>
</g>
</svg>
